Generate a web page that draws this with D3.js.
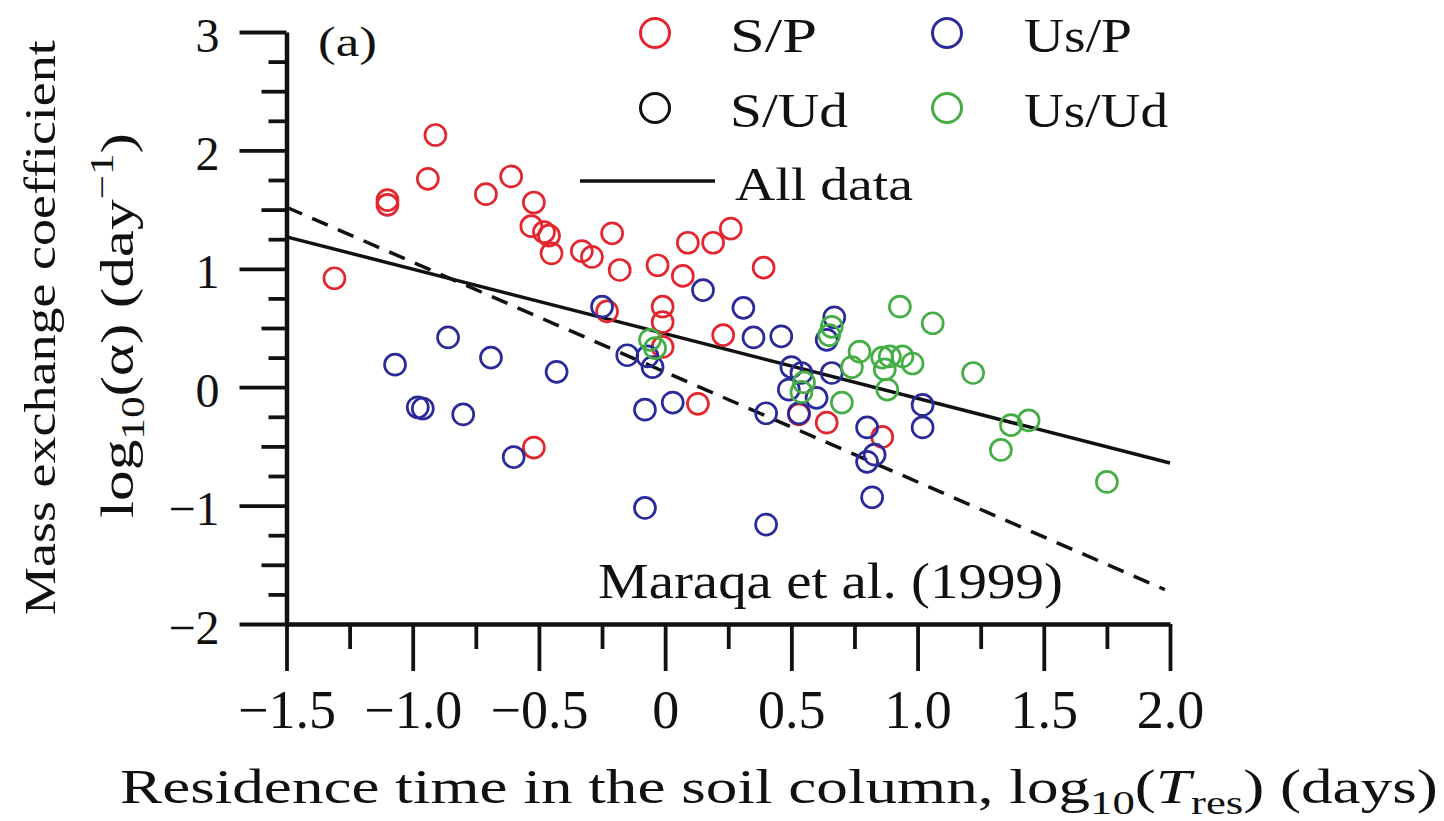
<!DOCTYPE html>
<html lang="en">
<head>
<meta charset="UTF-8">
<title>Mass exchange coefficient vs residence time</title>
<style>
  body { margin: 0; background: #fff; }
  svg text { font-family: 'Liberation Serif', 'DejaVu Serif', serif; fill: #111; }
  .axis path, .axis line { stroke: #111; }
</style>
</head>
<body>
<div id="chart"></div>
<script src="https://d3js.org/d3.v7.min.js"></script>
<script>
const W = 1444, H = 821;

// axis ticks
const xTicks = [-1.5, -1.0, -0.5, 0, 0.5, 1.0, 1.5, 2.0];
const xTickLabels = ["\u22121.5", "\u22121.0", "\u22120.5", "0", "0.5", "1.0", "1.5", "2.0"];
const xMinor = [-1.25, -0.75, -0.25, 0.25, 0.75, 1.25, 1.75];
const yTicks = [-2, -1, 0, 1, 2, 3];
const yTickLabels = ["\u22122", "\u22121", "0", "1", "2", "3"];
const yMid = [-1.5, -0.5, 0.5, 1.5, 2.5];
const yMinor = [-1.75, -1.25, -0.75, -0.25, 0.25, 0.75, 1.25, 1.75, 2.25, 2.75];

// S/P (red)
const spX = [-1.31, -1.10, -1.10, -0.94, -0.91, -0.71, -0.61, -0.52, -0.53, -0.48, -0.46, -0.45, -0.33, -0.29, -0.21, -0.18, -0.03, 0.09, 0.19, 0.26, 0.07, 0.39, -0.01, -0.01, -0.01, -0.23, 0.23, 0.13, -0.52, 0.53, 0.64, 0.86];
const spY = [0.92, 1.58, 1.54, 1.76, 2.13, 1.63, 1.78, 1.56, 1.36, 1.31, 1.28, 1.13, 1.15, 1.10, 1.30, 0.99, 1.03, 1.22, 1.22, 1.34, 0.94, 1.01, 0.68, 0.55, 0.34, 0.64, 0.44, -0.14, -0.51, -0.23, -0.30, -0.42];
// Us/P (blue)
const upX = [-1.07, -0.86, -0.98, -0.96, -0.80, -0.69, -0.60, -0.43, -0.25, -0.15, -0.07, -0.05, -0.08, 0.03, -0.08, 0.15, 0.31, 0.35, 0.46, 0.67, 0.64, 0.50, 0.54, 0.66, 0.49, 0.60, 1.02, 0.40, 0.53, 1.02, 0.80, 0.83, 0.80, 0.82, 0.40];
const upY = [0.19, 0.42, -0.17, -0.18, -0.23, 0.25, -0.59, 0.13, 0.68, 0.27, 0.26, 0.17, -0.19, -0.13, -1.02, 0.82, 0.67, 0.42, 0.43, 0.59, 0.40, 0.17, 0.12, 0.12, -0.02, -0.09, -0.15, -0.22, -0.22, -0.34, -0.34, -0.57, -0.63, -0.93, -1.16];
// S/Ud (black) - none visible
const sdX = [];
const sdY = [];
// Us/Ud (green)
const udX = [-0.06, -0.04, 0.66, 0.65, 0.93, 1.06, 0.77, 0.86, 0.89, 0.94, 0.98, 0.87, 1.22, 0.55, 0.54, 0.74, 0.70, 0.88, 1.37, 1.44, 1.33, 1.75];
const udY = [0.40, 0.33, 0.51, 0.44, 0.68, 0.54, 0.30, 0.25, 0.26, 0.26, 0.20, 0.15, 0.12, 0.04, -0.04, 0.17, -0.13, -0.02, -0.32, -0.28, -0.53, -0.80];

// fitted lines
const allFitX = [-1.5, 2.0];
const allFitY = [1.27, -0.64];
const maraqaX = [-1.5, 1.98];
const maraqaY = [1.52, -1.71];

const series = [
  { name: "S/P", xs: spX, ys: spY, color: "#e3262d" },
  { name: "Us/P", xs: upX, ys: upY, color: "#2a2a9a" },
  { name: "S/Ud", xs: sdX, ys: sdY, color: "#111111" },
  { name: "Us/Ud", xs: udX, ys: udY, color: "#44ad44" }
];

const svg = d3.select('#chart').append('svg').attr('width', W).attr('height', H);

const x = d3.scaleLinear().domain([-1.5, 2.0]).range([286.5, 1170]);
const y = d3.scaleLinear().domain([-2, 3]).range([624, 32]);

// stretch a text element to a target width
function fit(t, x0, y0, w, rot) {
  const L = t.node().getComputedTextLength();
  t.attr('transform', `translate(${x0},${y0}) rotate(${rot || 0}) scale(${w / L},1)`);
}

// lines
const line = d3.line().x(d => x(d[0])).y(d => y(d[1]));
svg.append('path').datum(d3.zip(maraqaX, maraqaY))
  .attr('d', line).attr('fill', 'none').attr('stroke', '#111')
  .attr('stroke-width', 3.5).attr('stroke-dasharray', '17,11');
svg.append('path').datum(d3.zip(allFitX, allFitY))
  .attr('d', line).attr('fill', 'none').attr('stroke', '#111')
  .attr('stroke-width', 3.5);

// points
series.forEach(s => {
  svg.append('g').selectAll('circle')
    .data(d3.zip(s.xs, s.ys))
    .enter().append('circle')
    .attr('cx', d => x(d[0])).attr('cy', d => y(d[1]))
    .attr('r', 10.5).attr('fill', 'none')
    .attr('stroke', s.color).attr('stroke-width', 2.7);
});

// axes
const gx = svg.append('g').attr('class', 'axis')
  .attr('transform', `translate(0,${y(-2)})`)
  .call(d3.axisBottom(x).tickValues(xTicks).tickSize(47).tickSizeOuter(0)
    .tickFormat((d, i) => xTickLabels[i]));
gx.selectAll('text').attr('y', 104).attr('dy', null)
  .attr('font-size', 54).attr('font-family', 'Liberation Serif').attr('fill', '#111');
gx.select('.domain').attr('stroke-width', 4.5);
gx.selectAll('.tick line').attr('stroke-width', 3.8);

const gxm = svg.append('g').attr('class', 'axis')
  .attr('transform', `translate(0,${y(-2)})`)
  .call(d3.axisBottom(x).tickValues(xMinor).tickSize(25).tickFormat(''));
gxm.select('.domain').remove();
gxm.selectAll('.tick line').attr('stroke-width', 3.8);

const gy = svg.append('g').attr('class', 'axis')
  .attr('transform', `translate(${x(-1.5)},0)`)
  .call(d3.axisLeft(y).tickValues(yTicks).tickSize(47).tickSizeOuter(0)
    .tickFormat((d, i) => yTickLabels[i]));
gy.selectAll('text').attr('x', -67).attr('y', 19).attr('dy', null)
  .attr('font-size', 48).attr('font-family', 'Liberation Serif').attr('fill', '#111');
gy.select('.domain').attr('stroke-width', 4.5);
gy.selectAll('.tick line').attr('stroke-width', 3.8);

[[yMid, 25], [yMinor, 18]].forEach(([vals, len]) => {
  const g = svg.append('g').attr('class', 'axis')
    .attr('transform', `translate(${x(-1.5)},0)`)
    .call(d3.axisLeft(y).tickValues(vals).tickSize(len).tickFormat(''));
  g.select('.domain').remove();
  g.selectAll('.tick line').attr('stroke-width', 3.8);
});

// axis titles
const xt = svg.append('text').attr('font-size', 48);
xt.append('tspan').text('Residence time in the soil column, log');
xt.append('tspan').attr('font-size', 34).attr('dy', 11).text('10');
xt.append('tspan').attr('dy', -11).text('(');
xt.append('tspan').attr('font-style', 'italic').text('T');
xt.append('tspan').attr('font-size', 34).attr('dy', 11).text('res');
xt.append('tspan').attr('dy', -11).text(') (days)');
fit(xt, 120, 803, 1318);

const yt1 = svg.append('text').attr('font-size', 45).text('Mass exchange coefficient');
fit(yt1, 55, 615, 575, -90);

const yt2 = svg.append('text').attr('font-size', 47);
yt2.append('tspan').text('log');
yt2.append('tspan').attr('font-size', 33).attr('dy', 11).text('10');
yt2.append('tspan').attr('dy', -11).text('(\u03b1) (day');
yt2.append('tspan').attr('font-size', 33).attr('dy', -20).text('\u22121');
yt2.append('tspan').attr('dy', 20).text(')');
fit(yt2, 133, 518, 385, -90);

// panel label and annotation
const pa = svg.append('text').attr('font-size', 42).text('(a)');
fit(pa, 318, 56, 59);

const ma = svg.append('text').attr('font-size', 50).text('Maraqa et al. (1999)');
fit(ma, 598, 598, 465);

// legend
const legend = [
  { s: series[0], cx: 655, cy: 33, tx: 730, w: 87 },
  { s: series[1], cx: 947, cy: 33, tx: 1024, w: 108 },
  { s: series[2], cx: 655, cy: 108, tx: 730, w: 118 },
  { s: series[3], cx: 947, cy: 108, tx: 1024, w: 144 }
];
legend.forEach(l => {
  svg.append('circle').attr('cx', l.cx).attr('cy', l.cy).attr('r', 14.5)
    .attr('fill', 'none').attr('stroke', l.s.color).attr('stroke-width', 3);
  const t = svg.append('text').attr('font-size', 48).text(l.s.name);
  fit(t, l.tx, l.cy + 19, l.w);
});
svg.append('line').attr('x1', 580).attr('x2', 715).attr('y1', 181).attr('y2', 181)
  .attr('stroke', '#111').attr('stroke-width', 3.5);
const ad = svg.append('text').attr('font-size', 47).text('All data');
fit(ad, 735, 200, 178);
</script>
</body>
</html>
